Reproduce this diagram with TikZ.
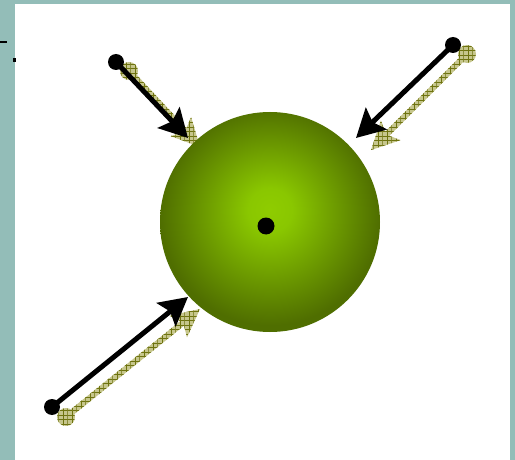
\documentclass[tikz,border=0pt]{standalone}
\usetikzlibrary{calc,patterns,patterns.meta,arrows.meta}
\definecolor{bgteal}{RGB}{147,189,184}
\definecolor{shadowol}{RGB}{110,115,15}
\definecolor{shadowbg}{RGB}{198,198,140}
\pgfdeclareradialshading{sphereshade}{\pgfpoint{0bp}{3bp}}{rgb(0bp)=(0.56,0.80,0); rgb(5bp)=(0.54,0.78,0); rgb(25bp)=(0.31,0.43,0); rgb(50bp)=(0.31,0.43,0)}
\tikzdeclarepattern{
  name=shadowgrid,
  type=uncolored,
  bottom left={(-0.1pt,-0.1pt)},
  top right={(4.6pt,4.6pt)},
  tile size={(4.5pt,4.5pt)},
  code={\draw[line width=0.9pt] (0pt,0pt) -- (4.5pt,0pt) (0pt,0pt) -- (0pt,4.5pt);}
}
\newcommand\shadarr[2]{%
  \path ($(#2)!28pt!(#1)$) coordinate (hb) ($(#2)!23pt!(#1)$) coordinate (hn);
  \fill[shadowfill] ($(#1)!3pt!90:(#2)$) -- ($(hn)!3pt!-90:(#1)$) -- ($(hb)!14pt!-90:(#1)$) -- (#2)
     -- ($(hb)!14pt!90:(#1)$) -- ($(hn)!3pt!90:(#1)$) -- ($(#1)!3pt!-90:(#2)$) -- cycle;
  \fill[shadowfill] (#1) circle (9pt);
}
\begin{document}
\begin{tikzpicture}[x=1pt,y=-1pt,
  shadowfill/.style={preaction={fill=shadowbg}, pattern=shadowgrid, pattern color=shadowol},
  blackarrow/.style={line width=5pt, -{Stealth[length=28pt,width=30pt,inset=5pt]}},
  enddot/.style={circle, fill=black, inner sep=0pt, minimum size=16pt},
  sphere/.style={circle, inner sep=0pt, minimum size=220pt, shading=sphereshade},
]
\useasboundingbox (0,0) rectangle (515,460);
\fill[bgteal] (0,0) rectangle (515,460);
\fill[white] (15,4) rectangle (510,460);
\draw[line width=1.3pt] (0,42) -- (7,42);
\fill (13,58) rectangle (15.5,62);

% shadow endpoints
\coordinate (s1) at (129,71);  \coordinate (u1) at (200,147);
\coordinate (s2) at (467,54);  \coordinate (u2) at (371,150);
\coordinate (s3) at (66,417);  \coordinate (u3) at (200,309);
\shadarr{s1}{u1}
\shadarr{s2}{u2}
\shadarr{s3}{u3}

\node[sphere] (sph) at (270,222) {};
\node[enddot, minimum size=17pt] (core) at (266,226) {};

\node[enddot] (d1) at (116,62) {};
\node[enddot] (d2) at (453,45) {};
\node[enddot] (d3) at (52,407) {};
\coordinate (t1) at (188,138);
\coordinate (t2) at (356,138);
\coordinate (t3) at (188,297);
\draw[blackarrow] (d1.center) -- (t1);
\draw[blackarrow] (d2.center) -- (t2);
\draw[blackarrow] (d3.center) -- (t3);
\end{tikzpicture}
\end{document}
